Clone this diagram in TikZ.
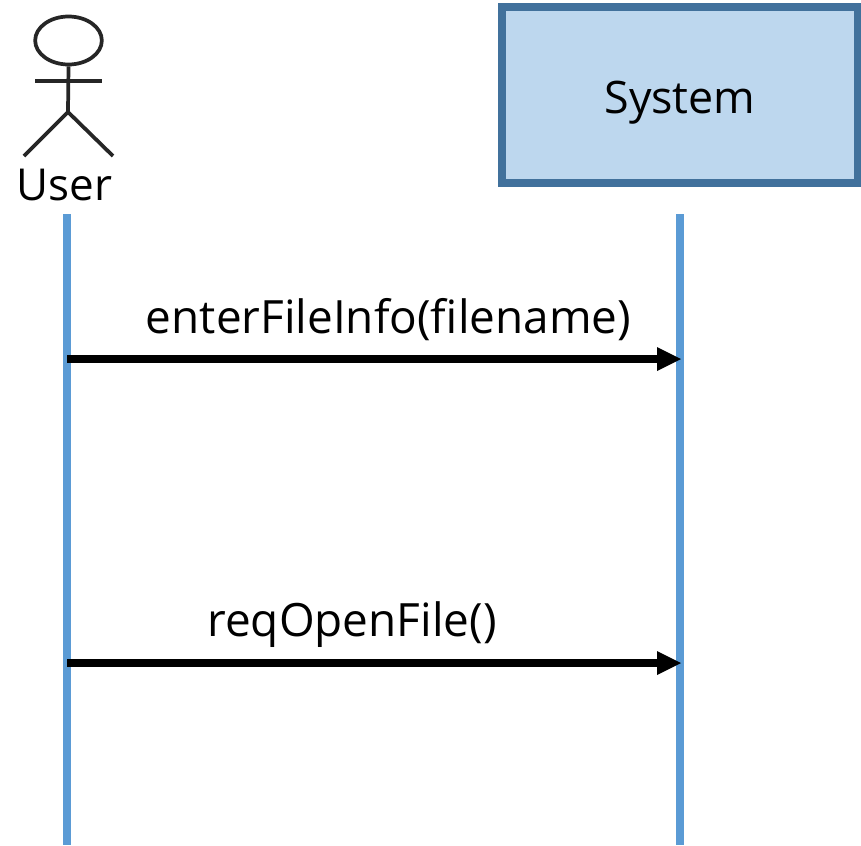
\documentclass[tikz,border=0pt]{standalone}
\usepackage{fontspec}
\setmainfont{Open Sans}
\usetikzlibrary{arrows.meta,shapes.geometric}
\definecolor{boxfill}{HTML}{BDD7EE}
\definecolor{boxline}{HTML}{41719C}
\definecolor{lifeline}{HTML}{5B9BD5}
\tikzset{
  px/.style={x=0.75pt,y=-0.75pt},
  lifelinestyle/.style={draw=lifeline,line width=6pt},
  msg/.style={draw=black,line width=6pt,-{Triangle[length=18pt,width=18pt,line width=0pt]},shorten >=0pt},
  label/.style={inner sep=0pt,font=\fontsize{33pt}{36pt}\selectfont,text=black,anchor=base},
  msglabel/.style={label,font=\fontsize{34.4pt}{38pt}\selectfont},
  stick/.style={draw=black!85,line width=2.8pt},
}
\begin{document}
\begin{tikzpicture}[px]
\useasboundingbox (0,0) rectangle (861,846);
% actor
\node[ellipse,stick,minimum width=50pt,minimum height=36pt,inner sep=0pt,fill=white] (head) at (68.5,40.5) {};
\coordinate (armL) at (35,81);
\coordinate (armR) at (102,81);
\coordinate (hip) at (68,112);
\coordinate (legL) at (24,156);
\coordinate (legR) at (113,156);
\draw[stick] (head.south) -- (hip);
\draw[stick] (armL) -- (armR);
\draw[stick] (legL) -- (hip) -- (legR);
\node[label] (user) at (64.5,200) {User};
% system
\begin{scope}
\clip (0,0) rectangle (861,846);
\node[draw=boxline,fill=boxfill,line width=6pt,minimum width=267.2pt,minimum height=131.5pt,inner sep=0pt,anchor=center] (sys) at (680.2,95) {};
\end{scope}
\node[label,font=\fontsize{33.6pt}{36pt}\selectfont] (systxt) at (680,113) {System};
% lifelines
\coordinate (u0) at (67,214);
\coordinate (u1) at (67,845);
\coordinate (s0) at (680,214);
\coordinate (s1) at (680,845);
\draw[lifelinestyle] (u0) -- (u1);
\draw[lifelinestyle] (s0) -- (s1);
% messages
\coordinate (m1a) at (67,359);
\coordinate (m1b) at (681,359);
\coordinate (m2a) at (67,663);
\coordinate (m2b) at (681,663);
\draw[msg] (m1a) -- (m1b);
\draw[msg] (m2a) -- (m2b);
\node[msglabel] (m1t) at (388.5,333.5) {enterFileInfo(filename)};
\node[msglabel] (m2t) at (352,636.5) {reqOpenFile()};
\end{tikzpicture}
\end{document}
